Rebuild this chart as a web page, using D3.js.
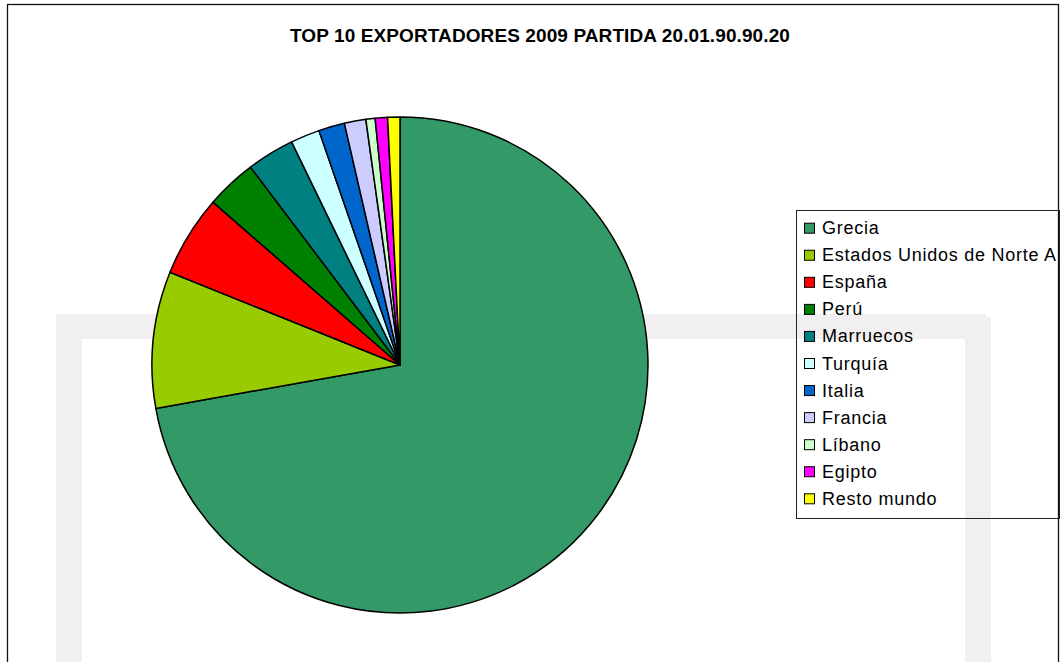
<!DOCTYPE html>
<html>
<head>
<meta charset="utf-8">
<script src="https://cdn.jsdelivr.net/npm/d3@7"></script>
<style>
  html, body { margin: 0; padding: 0; background: #fff; }
  svg { display: block; }
  text { font-family: "Liberation Sans", Arial, Helvetica, sans-serif; }
</style>
</head>
<body>
<svg id="chart" width="1062" height="662"></svg>
<script>
// Export share by country, 2009 (percent of total)
const countries = ["Grecia", "Estados Unidos de Norte A", "España", "Perú", "Marruecos",
                   "Turquía", "Italia", "Francia", "Líbano", "Egipto", "Resto mundo"];
const shares = [72.2, 8.9, 5.3, 3.3, 3.1, 1.9, 1.7, 1.4, 0.6, 0.8, 0.8];
const colors = ["#339966", "#99cc00", "#ff0000", "#008000", "#008080",
                "#ccffff", "#0066cc", "#ccccff", "#ccffcc", "#ff00ff", "#ffff00"];
const title = "TOP 10 EXPORTADORES 2009 PARTIDA 20.01.90.90.20";

const svg = d3.select("#chart");

// Decorative light frame behind the plot
const frame = svg.append("g").attr("fill", "#f2eff0");
frame.append("rect").attr("x", 56).attr("y", 314).attr("width", 26).attr("height", 360);
frame.append("rect").attr("x", 56).attr("y", 314).attr("width", 930).attr("height", 25);
frame.append("rect").attr("x", 965).attr("y", 317).attr("width", 26).attr("height", 360);

// Outer chart border
svg.append("rect")
  .attr("x", 7.5).attr("y", 4.5).attr("width", 1051).attr("height", 720)
  .attr("fill", "none").attr("stroke", "#111").attr("stroke-width", 1.3);

// Title
svg.append("text")
  .attr("x", 540).attr("y", 42)
  .attr("text-anchor", "middle")
  .attr("font-size", 19).attr("font-weight", "bold")
  .attr("letter-spacing", 0.1)
  .text(title);

// Pie
const cx = 400, cy = 365, radius = 248;
const pie = d3.pie().sort(null).value(d => d.value);
const arc = d3.arc().innerRadius(0).outerRadius(radius);
const data = countries.map((c, i) => ({ name: c, value: shares[i] }));

const color = d3.scaleOrdinal().domain(countries).range(colors);

svg.append("g")
  .attr("transform", `translate(${cx},${cy})`)
  .selectAll("path")
  .data(pie(data))
  .join("path")
  .attr("d", arc)
  .attr("fill", d => color(d.data.name))
  .attr("stroke", "#000")
  .attr("stroke-width", 1.5)
  .attr("stroke-linejoin", "round");

// Legend
const lgX = 796, lgY = 210, lgW = 263, lgH = 308, rowH = 27.06, firstRow = 227.7;
svg.append("rect")
  .attr("x", lgX + 0.5).attr("y", lgY + 0.5).attr("width", lgW).attr("height", lgH)
  .attr("fill", "none").attr("stroke", "#222").attr("stroke-width", 1);

const rowScale = d3.scaleLinear().domain([0, 1]).range([firstRow, firstRow + rowH]);
const rows = svg.append("g")
  .selectAll("g")
  .data(countries)
  .join("g")
  .attr("transform", (d, i) => `translate(0,${rowScale(i)})`);

rows.append("rect")
  .attr("x", 804.5).attr("y", -4.5).attr("width", 10).attr("height", 10)
  .attr("fill", d => color(d)).attr("stroke", "#000").attr("stroke-width", 1);

rows.append("text")
  .attr("x", 822).attr("y", 6.5)
  .attr("font-size", 18)
  .attr("letter-spacing", 0.75)
  .attr("fill", "#000")
  .text(d => d);
</script>
</body>
</html>
